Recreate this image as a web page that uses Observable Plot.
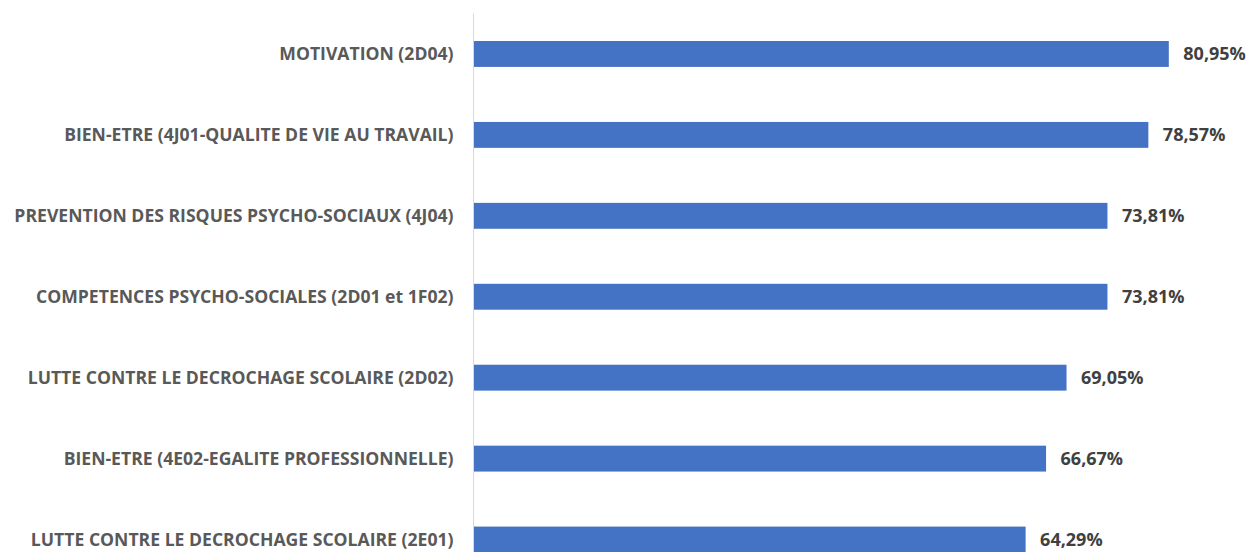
<!DOCTYPE html>
<html>
<head>
<meta charset="utf-8">
<script src="https://cdn.jsdelivr.net/npm/d3@7"></script>
<script src="https://cdn.jsdelivr.net/npm/@observablehq/plot@0.6"></script>
<style>
  html, body { margin: 0; padding: 0; background: #fff; }
  svg { display: block; }
</style>
</head>
<body>
<div id="chart"></div>
<script>
const categories = [
  "MOTIVATION (2D04)",
  "BIEN-ETRE (4J01-QUALITE DE VIE AU TRAVAIL)",
  "PREVENTION DES RISQUES PSYCHO-SOCIAUX (4J04)",
  "COMPETENCES PSYCHO-SOCIALES (2D01 et 1F02)",
  "LUTTE CONTRE LE DECROCHAGE SCOLAIRE (2D02)",
  "BIEN-ETRE (4E02-EGALITE PROFESSIONNELLE)",
  "LUTTE CONTRE LE DECROCHAGE SCOLAIRE (2E01)"
];
const values = [80.95, 78.57, 73.81, 73.81, 69.05, 66.67, 64.29];

const data = categories.map((c, i) => ({ category: c, value: values[i] }));
const fmt = v => v.toFixed(2).replace(".", ",") + "%";

const chart = Plot.plot({
  width: 1249,
  height: 552,
  marginTop: 13.5,
  marginBottom: -28,
  marginLeft: 473,
  marginRight: 2.4,
  style: { fontFamily: "'Open Sans', sans-serif", background: "#fff" },
  x: { domain: [0, 90], axis: null },
  y: { domain: categories, paddingInner: 0.68, paddingOuter: 0.34, round: false, axis: null },
  marks: [
    Plot.barX(data, { x: "value", y: "category", fill: "#4472C4" }),
    Plot.ruleX([0], { stroke: "#d9d9d9", strokeWidth: 1 }),
    Plot.text(data, {
      x: 0, y: "category", text: "category",
      textAnchor: "end", dx: -20,
      fill: "#595959", fontWeight: "bold", fontSize: 17.6
    }),
    Plot.text(data, {
      x: "value", y: "category", text: d => fmt(d.value),
      textAnchor: "start", dx: 14,
      fill: "#404040", fontWeight: "bold", fontSize: 18
    })
  ]
});
document.getElementById("chart").appendChild(chart);
</script>
</body>
</html>
